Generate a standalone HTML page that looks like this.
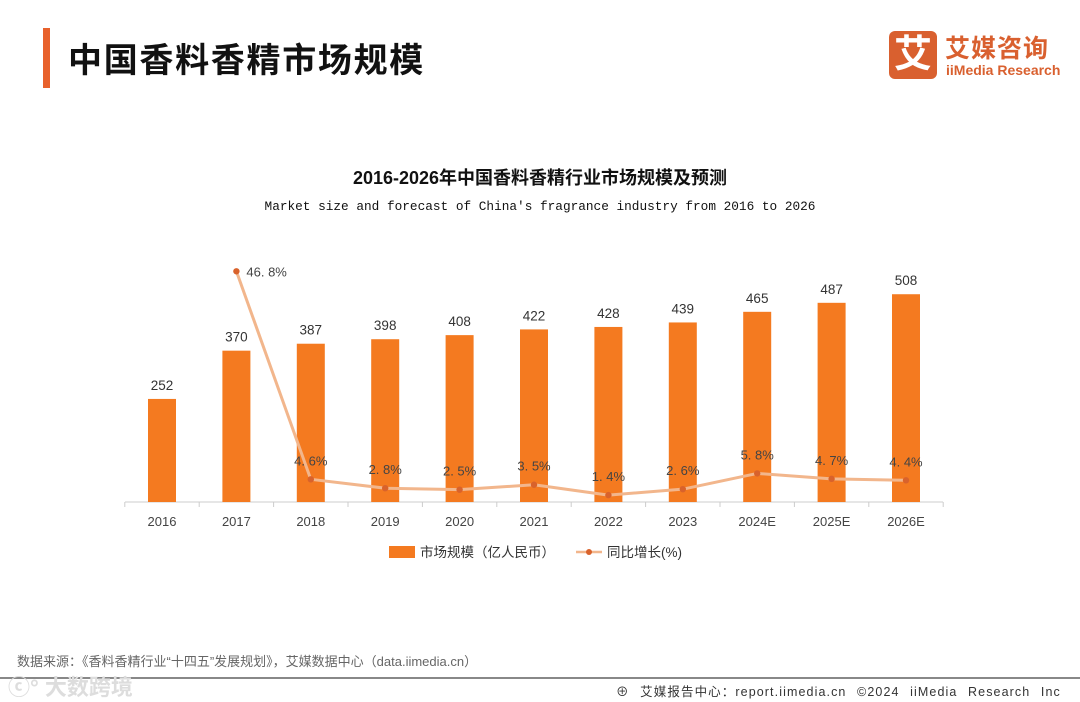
<!DOCTYPE html>
<html><head><meta charset="utf-8">
<style>
body{margin:0;width:1080px;height:702px;background:#fff;position:relative;overflow:hidden;font-family:"Liberation Sans","Noto Sans CJK SC",sans-serif;}
.abs{position:absolute;}
</style></head><body>
<div class="abs" style="left:43px;top:28px;width:7px;height:60px;background:#e8612c"></div>
<div class="abs" style="left:68px;top:33px;font-size:34px;font-weight:bold;color:#111;letter-spacing:1.7px">中国香料香精市场规模</div>
<div class="abs" style="left:889px;top:31px;width:170px;height:50px">
 <div class="abs" style="left:0;top:0;width:48px;height:48px;background:#d9602f;border-radius:6px;color:#fff;font-size:38px;font-weight:bold;text-align:center;line-height:48px">艾</div>
 <div class="abs" style="left:56px;top:-2px;font-size:25px;font-weight:bold;color:#d9602f;letter-spacing:1px;white-space:nowrap">艾媒咨询</div>
 <div class="abs" style="left:57px;top:31px;font-size:14px;font-weight:bold;color:#d9602f;white-space:nowrap">iiMedia Research</div>
</div>
<div class="abs" style="left:0;width:1080px;top:164px;text-align:center;font-size:18px;font-weight:bold;color:#111">2016-2026年中国香料香精行业市场规模及预测</div>
<div class="abs" style="left:0;width:1080px;top:199px;text-align:center;font-size:12.75px;font-family:'Liberation Mono',monospace;color:#111">Market size and forecast of China's fragrance industry from 2016 to 2026</div>
<svg class="abs" style="left:0;top:0" width="1080" height="702" id="chart"></svg>
<div class="abs" style="left:17px;top:651px;font-size:13px;color:#666">数据来源：《香料香精行业“十四五”发展规划》，艾媒数据中心（data.iimedia.cn）</div>
<div class="abs" style="left:0;top:677px;width:1080px;height:2px;background:#888"></div>
<div class="abs" style="left:8px;top:670px;font-size:22px;color:#ddd;font-weight:bold">ⓒ° 大数跨境</div>
<div class="abs" style="left:616px;top:681px;font-size:12.5px;color:#333;white-space:nowrap;letter-spacing:1.1px;word-spacing:6px">⊕ 艾媒报告中心：report.iimedia.cn ©2024 iiMedia Research Inc</div>
<script>
const categories=["2016","2017","2018","2019","2020","2021","2022","2023","2024E","2025E","2026E"];
const marketSize=[252,370,387,398,408,422,428,439,465,487,508];
const growth=[null,46.8,4.6,2.8,2.5,3.5,1.4,2.6,5.8,4.7,4.4];
const growthLabels=["","46. 8%","4. 6%","2. 8%","2. 5%","3. 5%","1. 4%","2. 6%","5. 8%","4. 7%","4. 4%"];
const svg=document.getElementById('chart');const NS='http://www.w3.org/2000/svg';
const base=502,x0=162,step=74.4;
const xs=i=>x0+i*step, yb=v=>base-v*0.409, yl=v=>base-v*4.93;
function mk(t,a){const e=document.createElementNS(NS,t);for(const k in a)e.setAttribute(k,a[k]);svg.appendChild(e);return e;}
const ax=mk('line',{x1:125,x2:943,y1:base,y2:base,stroke:'#ccc'});


for(let i=0;i<=categories.length;i++){const t=mk('line',{x1:xs(i)-step/2,x2:xs(i)-step/2,y1:base,y2:base+5,stroke:'#ccc'});

}
categories.forEach((c,i)=>{
 const r=mk('rect',{x:xs(i)-14,y:yb(marketSize[i]),width:28,height:base-yb(marketSize[i]),fill:'#f47a20'});
 
 
 const v=mk('text',{x:xs(i),y:yb(marketSize[i])-9,'text-anchor':'middle','font-size':13.5,fill:'#333','font-family':'Liberation Sans'});v.textContent=marketSize[i];
 
 
 const l=mk('text',{x:xs(i),y:base+24,'text-anchor':'middle','font-size':13,fill:'#444','font-family':'Liberation Sans'});l.textContent=c;
 
 
});
let pts=[];growth.forEach((g,i)=>{if(g!==null)pts.push(xs(i)+','+yl(g));});
const pl=mk('polyline',{points:pts.join(' '),fill:'none',stroke:'#f2b68c','stroke-width':3,'stroke-linejoin':'round'});


growth.forEach((g,i)=>{if(g===null)return;
 const c=mk('circle',{cx:xs(i),cy:yl(g),r:3.2,fill:'#d9622b'});
 
 
 const first=i===1;
 const t=mk('text',{x:first?xs(i)+10:xs(i),y:first?yl(g)+5:yl(g)-14,'text-anchor':first?'start':'middle','font-size':13,fill:'#444','font-family':'Liberation Sans'});t.textContent=growthLabels[i];
 
 
});
const lr=mk('rect',{x:389,y:546,width:26,height:12,fill:'#f47a20'});


const lt=mk('text',{x:420,y:557,'font-size':13.5,fill:'#333','font-family':'Liberation Sans,Noto Sans CJK SC'});lt.textContent='市场规模（亿人民币）';


const ll=mk('line',{x1:576,x2:602,y1:552,y2:552,stroke:'#f2b68c','stroke-width':2.5});


const lc=mk('circle',{cx:589,cy:552,r:3,fill:'#d9622b'});


const lt2=mk('text',{x:607,y:557,'font-size':13.5,fill:'#333','font-family':'Liberation Sans,Noto Sans CJK SC'});lt2.textContent='同比增长(%)';


</script>
</body></html>
